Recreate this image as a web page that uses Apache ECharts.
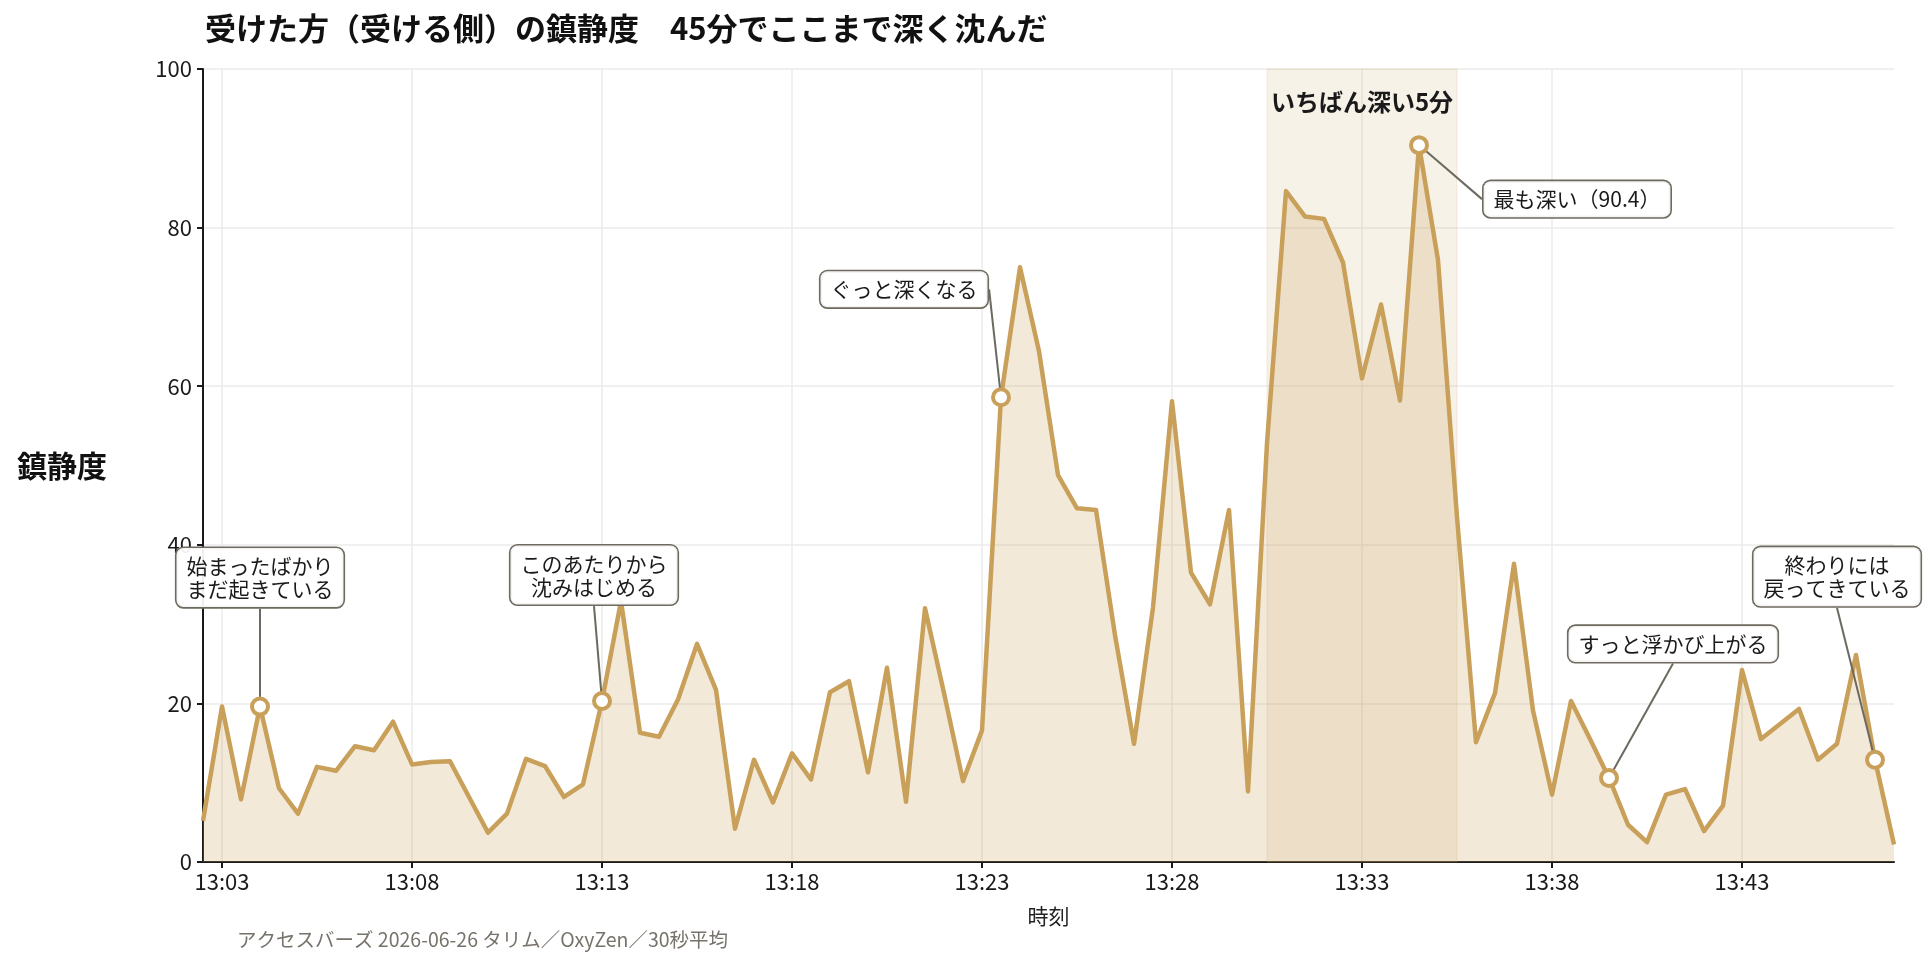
<!DOCTYPE html>
<html>
<head>
<meta charset="utf-8">
<script src="https://cdn.jsdelivr.net/npm/echarts@6/dist/echarts.min.js"></script>
<style>
  html, body { margin: 0; padding: 0; background: #fff; }
  #main { width: 1932px; height: 966px; }
</style>
</head>
<body>
<div id="main"></div>
<script>
// 30秒ごとの時刻 (13:02:30 - 13:47:00)
const times = [
  '13:02:30', '13:03:00', '13:03:30', '13:04:00', '13:04:30', '13:05:00', '13:05:30', '13:06:00', '13:06:30', '13:07:00',
  '13:07:30', '13:08:00', '13:08:30', '13:09:00', '13:09:30', '13:10:00', '13:10:30', '13:11:00', '13:11:30', '13:12:00',
  '13:12:30', '13:13:00', '13:13:30', '13:14:00', '13:14:30', '13:15:00', '13:15:30', '13:16:00', '13:16:30', '13:17:00',
  '13:17:30', '13:18:00', '13:18:30', '13:19:00', '13:19:30', '13:20:00', '13:20:30', '13:21:00', '13:21:30', '13:22:00',
  '13:22:30', '13:23:00', '13:23:30', '13:24:00', '13:24:30', '13:25:00', '13:25:30', '13:26:00', '13:26:30', '13:27:00',
  '13:27:30', '13:28:00', '13:28:30', '13:29:00', '13:29:30', '13:30:00', '13:30:30', '13:31:00', '13:31:30', '13:32:00',
  '13:32:30', '13:33:00', '13:33:30', '13:34:00', '13:34:30', '13:35:00', '13:35:30', '13:36:00', '13:36:30', '13:37:00',
  '13:37:30', '13:38:00', '13:38:30', '13:39:00', '13:39:30', '13:40:00', '13:40:30', '13:41:00', '13:41:30', '13:42:00',
  '13:42:30', '13:43:00', '13:43:30', '13:44:00', '13:44:30', '13:45:00', '13:45:30', '13:46:00', '13:46:30', '13:47:00',
];

// 鎮静度
const sedation = [
  5.2, 19.6, 7.9, 19.6, 9.3, 6.1, 12.0, 11.5, 14.6, 14.1,
  17.7, 12.3, 12.6, 12.7, 8.2, 3.7, 6.1, 13.0, 12.1, 8.2,
  9.8, 20.3, 32.9, 16.3, 15.8, 20.5, 27.5, 21.7, 4.2, 12.9,
  7.5, 13.7, 10.4, 21.4, 22.8, 11.3, 24.5, 7.6, 32.0, 21.3,
  10.2, 16.6, 58.6, 75.0, 64.4, 48.8, 44.6, 44.4, 28.6, 14.9,
  32.1, 58.1, 36.5, 32.5, 44.4, 8.9, 52.8, 84.6, 81.4, 81.1,
  75.6, 61.0, 70.3, 58.2, 90.4, 75.9, 43.5, 15.1, 21.3, 37.6,
  19.1, 8.5, 20.3, 15.5, 10.6, 4.7, 2.5, 8.5, 9.2, 3.9,
  7.1, 24.2, 15.5, 17.4, 19.3, 12.9, 14.9, 26.1, 12.9, 2.2,
];

const tickTimes = ['13:03:00', '13:08:00', '13:13:00', '13:18:00', '13:23:00', '13:28:00', '13:33:00', '13:38:00', '13:43:00'];

// 注釈
const noteTimes = ['13:04:00', '13:13:00', '13:23:30', '13:34:30', '13:39:30', '13:46:30'];
const noteTexts = [
  '始まったばかり\nまだ起きている',
  'このあたりから\n沈みはじめる',
  'ぐっと深くなる',
  '最も深い（90.4）',
  'すっと浮かび上がる',
  '終わりには\n戻ってきている',
];
// 吹き出しの位置 (点からのずれ)
const noteOffsets = [[0, -129], [-8, -126], [-97, -108], [158, 54], [64, -134], [-38, -183]];

// 一番深い5分
const deepStart = '13:30:30';
const deepEnd = '13:35:30';

const gold = '#c9a05a';
const font = '"Noto Sans CJK JP", "Noto Sans", sans-serif';

const isTick = (idx, value) => tickTimes.indexOf(value !== undefined ? value : times[idx]) >= 0;

const myChart = echarts.init(document.getElementById('main'));

const option = {
  backgroundColor: '#fff',
  textStyle: { fontFamily: font },
  animation: false,
  title: {
    text: '受けた方（受ける側）の鎮静度　45分でここまで深く沈んだ',
    left: 200,
    top: 8,
    textStyle: { fontSize: 31, fontWeight: 'bold', color: '#111', fontFamily: font },
  },
  grid: { left: 203, right: 38, top: 69, bottom: 104 },
  xAxis: {
    type: 'category',
    data: times,
    boundaryGap: false,
    name: '時刻',
    nameLocation: 'middle',
    nameGap: 44,
    nameTextStyle: { fontSize: 21, color: '#222' },
    axisLine: { lineStyle: { color: '#1a1a1a', width: 2 } },
    axisTick: { interval: (i, v) => isTick(i, v), length: 6, lineStyle: { color: '#1a1a1a', width: 2 } },
    axisLabel: {
      interval: (i, v) => isTick(i, v),
      formatter: v => v.slice(0, 5),
      fontSize: 22,
      color: '#1a1a1a',
      margin: 9,
    },
    splitLine: { show: true, interval: (i, v) => isTick(i, v), lineStyle: { color: '#ebebeb', width: 1.5 } },
  },
  yAxis: {
    type: 'value',
    min: 0,
    max: 100,
    interval: 20,
    name: '鎮静度',
    nameLocation: 'middle',
    nameRotate: 0,
    nameGap: 96,
    nameTextStyle: { fontSize: 30, fontWeight: 'bold', color: '#111', align: 'right' },
    axisLine: { show: true, lineStyle: { color: '#1a1a1a', width: 2 } },
    axisTick: { show: true, length: 6, lineStyle: { color: '#1a1a1a', width: 2 } },
    axisLabel: { fontSize: 22, color: '#1a1a1a', margin: 11 },
    splitLine: { lineStyle: { color: '#ebebeb', width: 1.5 } },
  },
  graphic: [
    {
      type: 'text',
      left: 237,
      top: 930,
      style: {
        text: 'アクセスバーズ 2026-06-26 タリム／OxyZen／30秒平均',
        fontSize: 19.5,
        fill: '#77736b',
        fontFamily: font,
      },
    },
  ],
  series: [
    {
      name: '鎮静度',
      type: 'line',
      data: sedation,
      showSymbol: false,
      lineStyle: { color: gold, width: 4.5, join: 'round' },
      itemStyle: { color: gold },
      areaStyle: { color: gold, opacity: 0.23 },
      z: 2,
      markArea: {
        silent: true,
        itemStyle: { color: 'rgba(201,160,90,0.14)', borderColor: 'rgba(201,160,90,0.2)', borderWidth: 1 },
        label: {
          show: true,
          position: 'insideTop',
          distance: 21,
          fontSize: 24,
          fontWeight: 'bold',
          color: '#1a1a1a',
        },
        data: [[{ xAxis: deepStart, name: 'いちばん深い5分' }, { xAxis: deepEnd }]],
      },
    },
    {
      name: '注釈',
      type: 'scatter',
      z: 5,
      symbol: 'circle',
      symbolSize: 16,
      itemStyle: { color: '#fff', borderColor: gold, borderWidth: 4, opacity: 1 },
      data: noteTimes.map((t, k) => ({
        value: [t, sedation[times.indexOf(t)]],
        label: { formatter: noteTexts[k] },
      })),
      label: {
        show: true,
        position: 'inside',
        align: 'center',
        verticalAlign: 'middle',
        fontSize: 21,
        lineHeight: 23,
        color: '#1a1a1a',
        textBorderWidth: 0,
        textBorderColor: 'transparent',
        backgroundColor: 'rgba(255,255,255,0.93)',
        borderColor: '#6e6a5f',
        borderWidth: 1.6,
        borderRadius: 7,
        padding: [7, 10, 6, 10],
      },
      labelLine: { show: true, lineStyle: { color: '#6b6a60', width: 2 } },
      labelLayout: params => ({ dx: noteOffsets[params.dataIndex][0], dy: noteOffsets[params.dataIndex][1] }),
    },
  ],
};

myChart.setOption(option);
</script>
</body>
</html>
